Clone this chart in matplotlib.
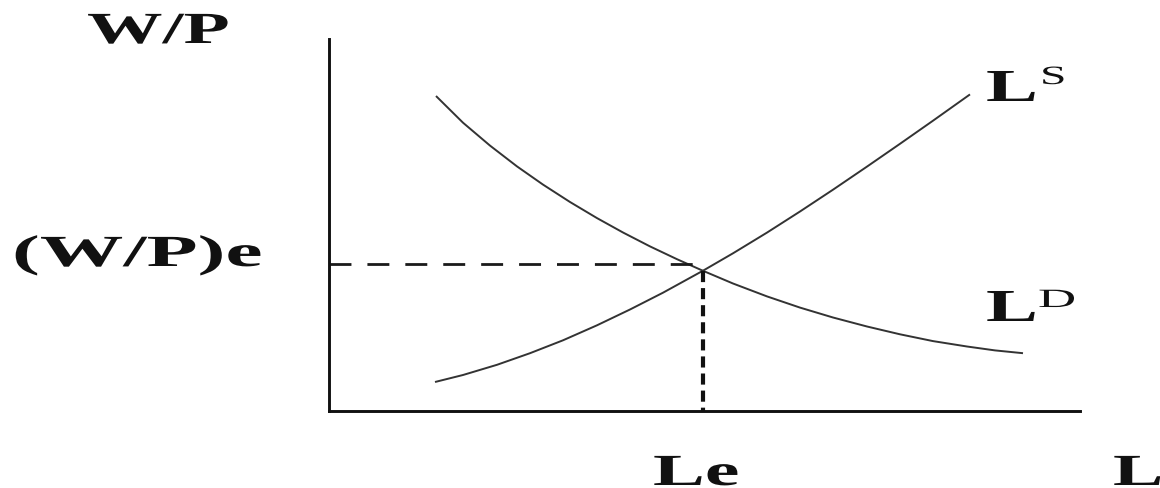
import matplotlib
matplotlib.use("Agg")
import matplotlib.pyplot as plt
from matplotlib.patheffects import AbstractPathEffect
from matplotlib.transforms import Affine2D

# Labour market: supply and demand curves.
# x = employment L, y = real wage W/P, both measured from the origin.
supply_l = [106, 134, 168, 201, 234, 268, 301, 334, 374, 404, 438, 471, 504, 538, 571, 604, 641]
supply_w = [29, 36, 46.2, 57.8, 70.7, 85.7, 101.5, 118.3, 140.3, 157.7, 178.4, 199.5,
            221.3, 244.4, 267.2, 290.3, 316.6]

demand_l = [107, 134, 161, 188, 214, 241, 268, 294, 321, 348, 374, 404, 438, 471, 504,
            538, 571, 604, 638, 666, 694]
demand_w = [315, 288.3, 265.4, 244.6, 226.4, 209.0, 192.9, 178.5, 164.6, 151.8, 140.2,
            127.5, 114.6, 103.4, 93.5, 84.5, 76.7, 69.9, 64.5, 60.6, 57.8]

eq_l = 374          # Le
eq_w_line = 147     # (W/P)e guide line (drawn a touch above the crossing)
eq_w_cross = 140

l_max = 751
w_max = 372

W_PX, H_PX = 1160, 489
SERIF = "Liberation Serif"


class Stretch(AbstractPathEffect):
    """Widen text horizontally about its left anchor (the source picture is stretched)."""

    def __init__(self, sx):
        super().__init__()
        self.sx = sx

    def draw_path(self, renderer, gc, tpath, affine, rgbFace=None):
        x0, y0 = affine.get_matrix()[:2, 2]
        stretch = Affine2D().translate(-x0, -y0).scale(self.sx, 1.0).translate(x0, y0)
        renderer.draw_path(gc, tpath, affine + stretch, rgbFace)


plt.rcParams["lines.scale_dashes"] = False

fig = plt.figure(figsize=(W_PX / 100, H_PX / 100), dpi=100)
fig.patch.set_facecolor("white")

# axes box: origin at (329, 412) px, x axis to 1080 px, y axis up to 40 px
ax = fig.add_axes([329 / W_PX, (H_PX - 412) / H_PX,
                   (1080 - 329) / W_PX, (412 - 40) / H_PX])
ax.set_xlim(0, l_max)
ax.set_ylim(0, w_max)
for side in ("top", "right"):
    ax.spines[side].set_visible(False)
for side in ("left", "bottom"):
    ax.spines[side].set_linewidth(2.1)
    ax.spines[side].set_color("#111111")
ax.set_xticks([])
ax.set_yticks([])
ax.patch.set_alpha(0)

ax.plot(supply_l, supply_w, color="#333333", lw=1.4, solid_joinstyle="round", solid_capstyle="butt")
ax.plot(demand_l, demand_w, color="#333333", lw=1.4, solid_joinstyle="round", solid_capstyle="butt")

h, = ax.plot([0, eq_l], [eq_w_line, eq_w_line], color="#1a1a1a", lw=2.0, dash_capstyle="butt")
h.set_dashes([15.8, 11.5])
v, = ax.plot([eq_l, eq_l], [eq_w_cross, 0], color="#111111", lw=3.0, dash_capstyle="butt")
v.set_dashes([8.0, 4.3])


def label(x_px, y_px, s, size, weight="bold", sx=1.7):
    fig.text(x_px / W_PX, 1 - y_px / H_PX, s, fontsize=size, fontweight=weight,
             family=SERIF, color="#111111", ha="left", va="baseline",
             path_effects=[Stretch(sx)])


label(87, 44, "W/P", 32)
label(12, 267, "(W/P)e", 32, sx=1.88)
label(653, 486, "Le", 32, sx=1.75)
label(1113, 486, "L", 32)

label(986, 102, "L", 33)
label(1040, 85, "S", 19, weight="normal", sx=1.8)
label(986, 322, "L", 33)
label(1038, 308, "D", 19, weight="normal", sx=2.0)

fig.savefig("out.png", dpi=100, facecolor="white")
